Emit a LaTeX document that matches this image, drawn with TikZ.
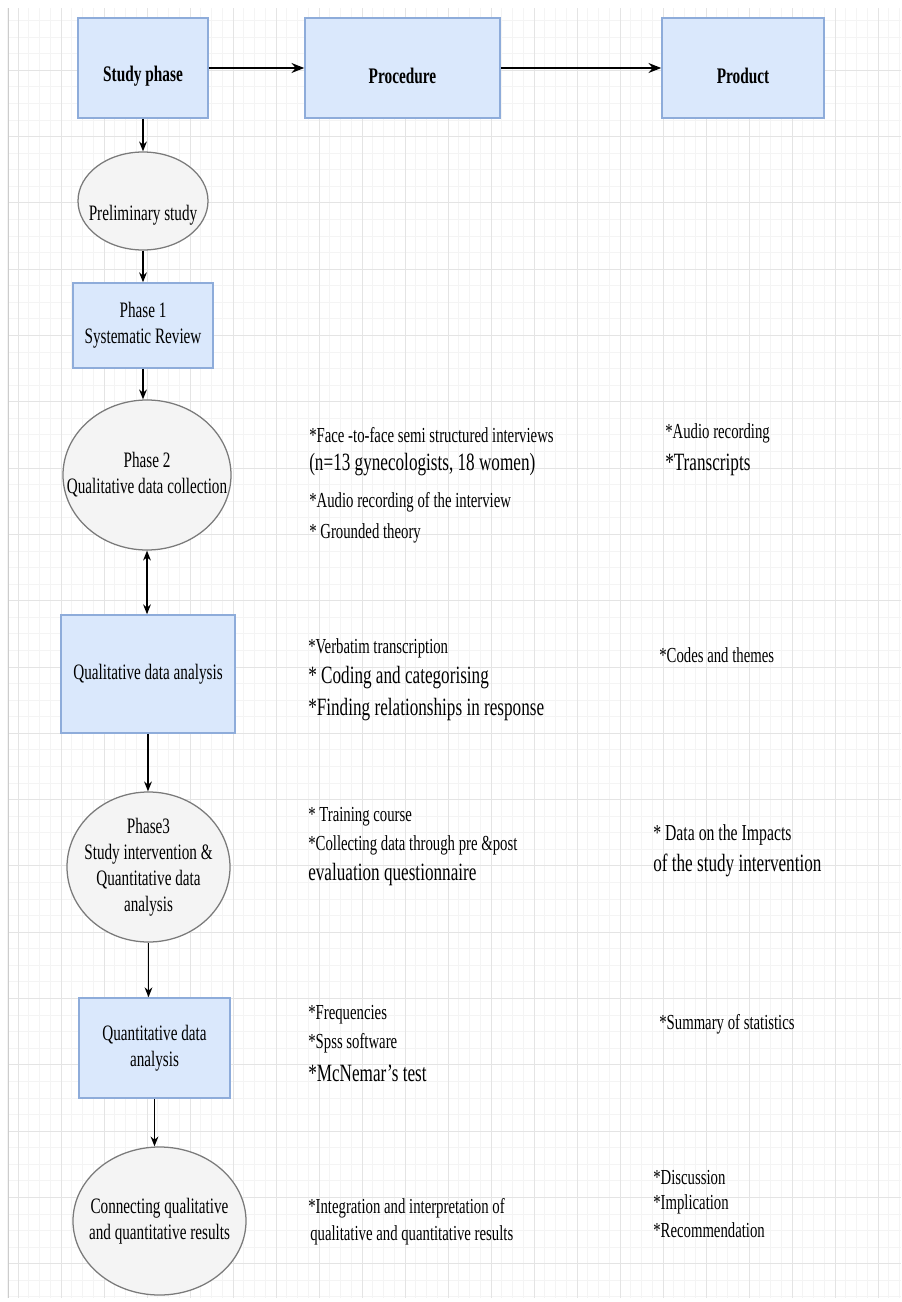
\documentclass[tikz,border=0pt]{standalone}
\usepackage{fontspec}
\setmainfont{Liberation Serif}
\usetikzlibrary{positioning, shapes.geometric, arrows.meta}
\definecolor{boxfill}{HTML}{DAE8FC}
\definecolor{boxline}{HTML}{8EACDA}
\definecolor{ovalfill}{HTML}{F4F4F4}
\definecolor{ovalline}{HTML}{7A7A7A}
\definecolor{gridminor}{HTML}{F4F4F4}
\definecolor{gridmajor}{HTML}{E4E4E4}
\newcommand{\smalltxt}{\fontsize{10.5}{12.5}\selectfont}
\newcommand{\midtxt}{\fontsize{11.2}{13}\selectfont}
\newcommand{\largetxt}{\fontsize{12.2}{14}\selectfont}

\tikzset{
  tall/.style={yscale=1.45},
  wd/.style={minimum width=#1*0.025cm},
  ht/.style={minimum height=#1*0.025cm},
  headtext/.style={font=\bfseries\fontsize{10.9}{13}\selectfont, tall},
  shapetext/.style={font=\fontsize{10.8}{12.8}\selectfont, align=center, tall},
  stagebox/.style={rectangle, draw=boxline, fill=boxfill, line width=1.1pt},
  stageoval/.style={ellipse, draw=ovalline, fill=ovalfill, line width=0.9pt},
  note/.style={anchor=west, inner sep=0pt, tall, font=\smalltxt},
  notebig/.style={note, font=\largetxt},
  flow/.style={-{Stealth[length=7pt, width=5.5pt]}, line width=1pt},
  mainflow/.style={-{Stealth[length=9pt, width=7pt]}, line width=1.9pt},
}

\begin{document}
\begin{tikzpicture}[x=0.025cm, y=-0.025cm]
  \useasboundingbox (0,0) rectangle (901,1302);

  % Background grid
  \foreach \gx in {7.25,18,...,901} \draw[gridminor] (\gx,8) -- (\gx,1298);
  \foreach \gy in {20.4,36.975,...,1298} \draw[gridminor] (8,\gy) -- (901,\gy);
  \foreach \gx in {18,61,...,901} \draw[gridmajor] (\gx,8) -- (\gx,1298);
  \foreach \gy in {70.1,136.4,...,1298} \draw[gridmajor] (8,\gy) -- (901,\gy);
  \draw[gray!40] (8,8) -- (8,1298);

  % Header row
  \node[stagebox, wd=130, ht=100, label={[headtext, yshift=-4pt]center:Study phase}] (study) at (143,68) {};
  \node[stagebox, wd=195, ht=100, label={[headtext, yshift=-4pt]center:Procedure}] (proc) at (402.5,68) {};
  \node[stagebox, wd=162, ht=100, label={[headtext, yshift=-4pt]center:Product}] (prod) at (743,68) {};
  \draw[mainflow] (study) -- (proc);
  \draw[mainflow] (proc) -- (prod);

  % Study phases
  \node[stageoval, wd=130, ht=98, label={[shapetext, yshift=-7pt]center:Preliminary study}] (prelim) at (143,201) {};
  \node[stagebox, wd=140, ht=85, label={[shapetext]center:{Phase 1\\Systematic Review}}] (phase1) at (143,325.5) {};
  \node[stageoval, wd=168, ht=150, label={[shapetext]center:{Phase 2\\Qualitative data collection}}] (phase2) at (147,475) {};
  \node[stagebox, wd=174, ht=118, label={[shapetext]center:Qualitative data analysis}] (qualan) at (148,674) {};
  \node[stageoval, wd=163, ht=150, label={[shapetext]center:{Phase3\\Study intervention \&\\Quantitative data\\analysis}}] (phase3) at (148.5,867) {};
  \node[stagebox, wd=151, ht=100, label={[shapetext]center:{Quantitative data\\analysis}}] (quantan) at (154.5,1048) {};
  \node[stageoval, wd=173, ht=148, label={[shapetext]center:{Connecting qualitative\\and quantitative results}}] (connect) at (159.5,1221) {};

  \draw[flow] (study) -- (prelim);
  \draw[flow] (prelim) -- (phase1);
  \draw[flow] (phase1.south) -- (phase1.south |- phase2.north);
  \draw[flow, {Stealth[length=7pt, width=5.5pt]}-{Stealth[length=7pt, width=5.5pt]}] (phase2.south) -- (phase2.south |- qualan.north);
  \draw[flow] (qualan.south) -- (qualan.south |- phase3.north);
  \draw[flow] (phase3.south) -- (phase3.south |- quantan.north);
  \draw[flow] (quantan.south) -- (quantan.south |- connect.north);

  % Phase 2
  \node[note] (p2a) at (309,435) {*Face -to-face semi structured interviews};
  \node[notebig] (p2b) at (309,465) {(n=13 gynecologists, 18 women)};
  \node[note] (p2c) at (309,502) {*Audio recording of the interview};
  \node[note] (p2d) at (309,533) {* Grounded theory};
  \node[note] (p2e) at (665,433) {*Audio recording};
  \node[notebig] (p2f) at (665,465) {*Transcripts};

  % Qualitative analysis
  \node[note] (qa1) at (308,648) {*Verbatim transcription};
  \node[notebig] (qa2) at (308,678) {* Coding and categorising};
  \node[notebig] (qa3) at (308,710) {*Finding relationships in response};
  \node[note] (qa4) at (659,655) {*Codes and themes};

  % Phase 3
  \node[note] (p3a) at (308,817) {* Training course};
  \node[note] (p3b) at (308,845) {*Collecting data through pre \&post};
  \node[notebig] (p3c) at (308,875) {evaluation questionnaire};
  \node[note, font=\midtxt] (p3d) at (653,835) {* Data on the Impacts};
  \node[notebig] (p3e) at (653,865) {of the study intervention};

  % Quantitative analysis
  \node[note] (qn1) at (308,1015) {*Frequencies};
  \node[note] (qn2) at (308,1043) {*Spss software};
  \node[notebig] (qn3) at (308,1073) {*McNemar's test};
  \node[note] (qn4) at (659,1024) {*Summary of statistics};

  % Connecting results
  \node[note] (cn1) at (308,1208) {*Integration and interpretation of};
  \node[note] (cn2) at (310,1235) {qualitative and quantitative results};
  \node[note] (cn3) at (653,1178) {*Discussion};
  \node[note] (cn4) at (653,1204) {*Implication};
  \node[note] (cn5) at (653,1230) {*Recommendation};
\end{tikzpicture}
\end{document}
